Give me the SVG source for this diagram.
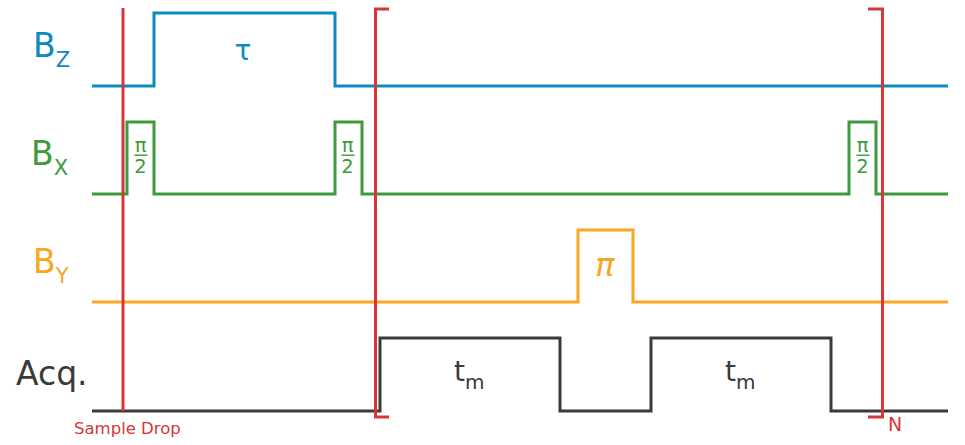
<svg xmlns="http://www.w3.org/2000/svg" width="965" height="445" viewBox="0 0 965 445">
<style>
.w{fill:none;stroke-width:3;stroke-linejoin:miter;stroke-linecap:butt}
.bz{stroke:#0b8bc1}.bx{stroke:#3d9a3d}.by{stroke:#f9a623}.aq{stroke:#3a3a38}.rd{stroke:#d6363a}
text{font-family:"DejaVu Sans","Liberation Sans",sans-serif}
.cz{fill:#0b8bc1}.cx{fill:#3d9a3d}.cy{fill:#f9a623}.ca{fill:#3a3a38}.cr{fill:#d6363a}
</style>
<rect width="965" height="445" fill="#fff"/>
<g id="labels">
<text x="33" y="57" font-size="33" class="cz">B<tspan font-size="21" dy="10">Z</tspan></text>
<text x="31" y="165" font-size="33" class="cx">B<tspan font-size="21" dy="10">X</tspan></text>
<text x="33" y="273" font-size="33" class="cy">B<tspan font-size="21" dy="10">Y</tspan></text>
<text x="16" y="385" font-size="33" class="ca">Acq.</text>
</g>
<g id="connectors">
<path id="bz-wave" class="w bz" d="M92 86H154V13H335V86H948"/>
<path id="bx-wave" class="w bx" d="M92 194H127V122H154V194H335V122H362V194H849V122H876V194H948"/>
<path id="by-wave" class="w by" d="M92 302H578V230H633V302H948"/>
<path id="acq-wave" class="w aq" d="M92 411H380V338H560V411H651V338H831V411H948"/>
<path id="sample-drop" class="w rd" d="M123 8V411"/>
<path id="bracket-left" class="w rd" d="M389 9H375.5V417H389"/>
<path id="bracket-right" class="w rd" d="M868 9H882.5V417H868"/>
</g>
<g id="pulse-labels">
<text x="243" y="60" font-size="28" class="cz" text-anchor="middle">τ</text>
<g id="frac1" class="cx">
<text x="140.5" y="152" font-size="19.5" text-anchor="middle">π</text>
<rect x="134.5" y="154.5" width="13" height="1.4"/>
<text x="140.5" y="173" font-size="19.5" text-anchor="middle">2</text>
</g>
<g id="frac2" class="cx">
<text x="347.5" y="152" font-size="19.5" text-anchor="middle">π</text>
<rect x="341.5" y="154.5" width="13" height="1.4"/>
<text x="347.5" y="173" font-size="19.5" text-anchor="middle">2</text>
</g>
<g id="frac3" class="cx">
<text x="862.5" y="152" font-size="19.5" text-anchor="middle">π</text>
<rect x="856.5" y="154.5" width="13" height="1.4"/>
<text x="862.5" y="173" font-size="19.5" text-anchor="middle">2</text>
</g>
<text x="605" y="276" font-size="32" font-style="italic" class="cy" text-anchor="middle">π</text>
<text x="454" y="381" font-size="28" class="ca">t<tspan font-size="20" dy="8">m</tspan></text>
<text x="725" y="381" font-size="28" class="ca">t<tspan font-size="20" dy="8">m</tspan></text>
<text x="74" y="434" font-size="16.5" class="cr">Sample Drop</text>
<text x="888" y="431" font-size="19" class="cr">N</text>
</g>
</svg>
